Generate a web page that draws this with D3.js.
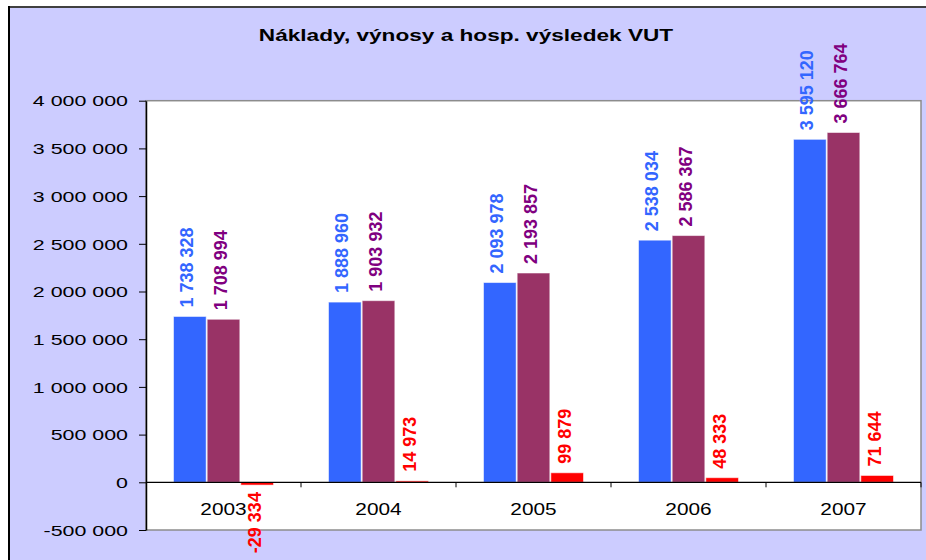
<!DOCTYPE html>
<html>
<head>
<meta charset="utf-8">
<script src="https://cdn.jsdelivr.net/npm/d3@7.9.0/dist/d3.min.js"></script>
<style>
  body { margin: 0; background: #fff; }
  svg { display: block; font-family: "Liberation Sans", Arial, sans-serif; }
</style>
</head>
<body>
<div id="chart"></div>
<script>
const years = ['2003', '2004', '2005', '2006', '2007'];
const naklady = [1738328, 1888960, 2093978, 2538034, 3595120];
const vynosy = [1708994, 1903932, 2193857, 2586367, 3666764];
const vysledek = [-29334, 14973, 99879, 48333, 71644];
const yTicks = [-500000, 0, 500000, 1000000, 1500000, 2000000, 2500000, 3000000, 3500000, 4000000];

const seriesNames = ['naklady', 'vynosy', 'vysledek'];
const barColors = { naklady: '#3366ff', vynosy: '#993366', vysledek: '#ff0000' };
const labelColors = { naklady: '#3366ff', vynosy: '#800080', vysledek: '#ff0000' };

const width = 926;
const height = 560;
const plot = { left: 146, right: 921, top: 100.7, bottom: 530 };

const locale = d3.formatLocale({ decimal: ',', thousands: ' ', grouping: [3], currency: ['', ''], minus: '-' });
const fmt = locale.format(',d');

// stretch horizontal text the way the original export does
function stretch(sel, k) {
  sel.each(function () {
    const len = this.getComputedTextLength();
    d3.select(this).attr('textLength', len * k).attr('lengthAdjust', 'spacingAndGlyphs');
  });
}

const svg = d3.select('#chart').append('svg')
  .attr('width', width)
  .attr('height', height);

// chart area background + frame
svg.append('rect')
  .attr('x', 9).attr('y', 7)
  .attr('width', width - 9).attr('height', height - 7)
  .attr('fill', '#ccccff');
svg.append('line')
  .attr('x1', 9).attr('x2', width).attr('y1', 7).attr('y2', 7)
  .attr('stroke', '#404040').attr('stroke-width', 2);
svg.append('line')
  .attr('x1', 9).attr('x2', 9).attr('y1', 6).attr('y2', height)
  .attr('stroke', '#000').attr('stroke-width', 2);

// title
const title = svg.append('text')
  .attr('x', 466).attr('y', 41)
  .attr('text-anchor', 'middle')
  .attr('font-size', 17)
  .attr('font-weight', 'bold')
  .attr('fill', '#000')
  .text('Náklady, výnosy a hosp. výsledek VUT');
stretch(title, 1.33);

// scales
const x = d3.scaleBand().domain(years).range([plot.left, plot.right]).padding(0);
const xSer = d3.scaleBand().domain(seriesNames).range([27, 128]).padding(0);
const y = d3.scaleLinear().domain([-500000, 4000000]).range([plot.bottom, plot.top]);

// plot area
svg.append('rect')
  .attr('x', plot.left).attr('y', plot.top)
  .attr('width', plot.right - plot.left).attr('height', plot.bottom - plot.top)
  .attr('fill', '#fff')
  .attr('stroke', '#8c8c8c').attr('stroke-width', 1.5);

// bars
const rows = years.map((year, i) => ({
  year,
  values: [
    { key: 'naklady', value: naklady[i] },
    { key: 'vynosy', value: vynosy[i] },
    { key: 'vysledek', value: vysledek[i] },
  ],
}));

const groups = svg.append('g').attr('class', 'bars')
  .selectAll('g')
  .data(rows)
  .join('g')
  .attr('transform', (d) => `translate(${x(d.year)},0)`);

groups.selectAll('rect')
  .data((d) => d.values)
  .join('rect')
  .attr('x', (d) => xSer(d.key) + 0.5)
  .attr('width', xSer.bandwidth() - 1)
  .attr('y', (d) => y(Math.max(0, d.value)))
  .attr('height', (d) => Math.abs(y(d.value) - y(0)))
  .attr('fill', (d) => barColors[d.key])
  .attr('stroke', 'rgba(255,255,255,0.55)')
  .attr('stroke-width', 1);

// y axis
const yAxis = svg.append('g')
  .attr('transform', `translate(${plot.left},0)`)
  .call(d3.axisLeft(y).tickValues(yTicks).tickSize(7).tickSizeOuter(0).tickPadding(11).tickFormat(fmt));
yAxis.select('.domain').attr('stroke', '#000').attr('stroke-width', 1.5);
yAxis.selectAll('.tick line').attr('stroke', '#000');
yAxis.selectAll('.tick text')
  .attr('font-size', 15.5)
  .attr('font-family', '"Liberation Sans", Arial, sans-serif')
  .attr('fill', '#000')
  .attr('dy', '0.34em');
stretch(yAxis.selectAll('.tick text'), 1.38);

// zero axis with category boundary ticks
const y0 = y(0);
svg.append('line')
  .attr('x1', plot.left).attr('x2', plot.right)
  .attr('y1', y0).attr('y2', y0)
  .attr('stroke', '#000').attr('stroke-width', 1.2);
svg.append('g')
  .selectAll('line')
  .data(years.slice(1).map((d) => x(d)).concat([plot.right]))
  .join('line')
  .attr('x1', (d) => d).attr('x2', (d) => d)
  .attr('y1', y0).attr('y2', y0 + 5)
  .attr('stroke', '#000');

const xLabels = svg.append('g')
  .selectAll('text')
  .data(years)
  .join('text')
  .attr('x', (d) => x(d) + x.bandwidth() / 2)
  .attr('y', y0 + 33)
  .attr('text-anchor', 'middle')
  .attr('font-size', 16)
  .attr('fill', '#000')
  .text((d) => d);
stretch(xLabels, 1.3);

// data labels
groups.selectAll('text')
  .data((d) => d.values)
  .join('text')
  .attr('transform', (d) => {
    const cx = xSer(d.key) + xSer.bandwidth() / 2 + 3.5;
    const cy = d.value >= 0 ? y(d.value) - 9 : y(d.value) + 7;
    return `translate(${cx},${cy}) rotate(-90)`;
  })
  .attr('text-anchor', (d) => (d.value >= 0 ? 'start' : 'end'))
  .attr('font-size', 18)
  .attr('font-weight', 'bold')
  .attr('fill', (d) => labelColors[d.key])
  .text((d) => fmt(d.value));
</script>
</body>
</html>
